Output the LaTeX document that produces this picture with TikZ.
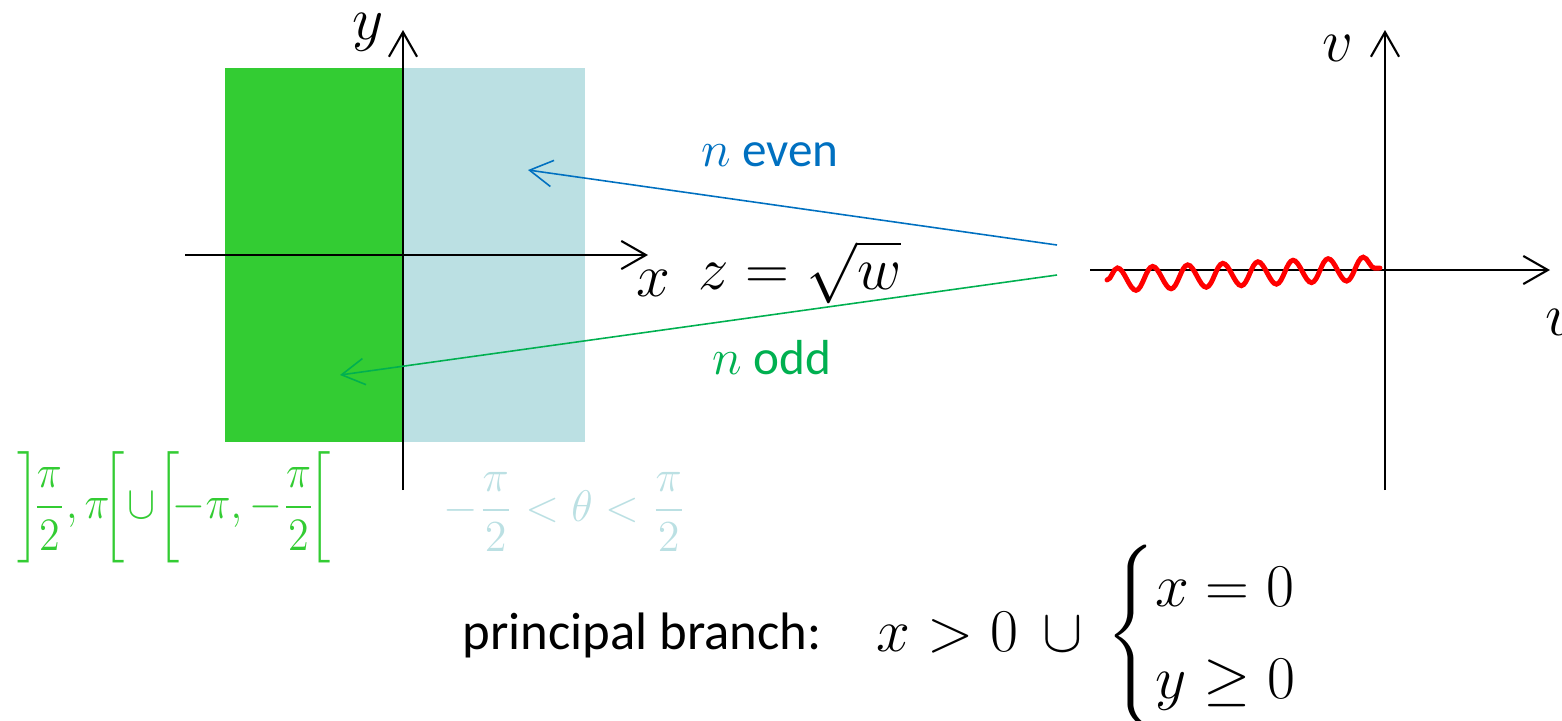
\documentclass[tikz,border=0pt]{standalone}
\usepackage{amsmath}
\usepackage{graphicx}
\usepackage{fontspec}
\setsansfont{Carlito}
\usetikzlibrary{arrows.meta,decorations.pathmorphing}
\definecolor{RootGreen}{RGB}{51,204,51}
\definecolor{RootCyan}{RGB}{187,224,227}
\definecolor{RootBlue}{RGB}{0,112,192}
\definecolor{RootOdd}{RGB}{0,176,80}
\definecolor{RootRed}{RGB}{255,0,0}
\tikzset{
  root axis/.style={-{Straight Barb[length=7pt,width=8pt]},draw=black,line width=0.6pt},
  root map/.style={-{Straight Barb[length=6.5pt,width=7.5pt]},line width=0.45pt},
  root var/.style={inner sep=0pt,font=\fontsize{17}{20}\selectfont},
  root label/.style={inner sep=0pt,font=\fontsize{14}{17}\selectfont\sffamily},
  root cond/.style={inner sep=0pt,font=\fontsize{12.5}{15}\selectfont},
  root cut/.style={
    draw=RootRed,
    line width=1.4pt,
    line cap=round,
    decorate,
    decoration={snake,amplitude=3.3pt,segment length=10pt}
  }
}
\begin{document}
\begin{tikzpicture}[x=0.1mm,y=-0.1mm]
  \useasboundingbox (0,0) rectangle (1562,720);
  % regions of the z plane
  \fill[RootGreen] (225,68) rectangle (403,442);
  \fill[RootCyan] (403,68) rectangle (585,442);

  % z plane
  \coordinate (zwest) at (185,255);
  \coordinate (zeast) at (648,255);
  \coordinate (zsouth) at (403,490);
  \coordinate (znorth) at (403,30);
  \draw[root axis] (zwest) -- (zeast);
  \draw[root axis] (zsouth) -- (znorth);
  \node[root var] (ylabel) at (368,32) {$y$};
  \node[root var] (xlabel) at (653,283) {$x$};

  % w plane
  \coordinate (wwest) at (1090,270);
  \coordinate (weast) at (1550,270);
  \coordinate (wsouth) at (1385,490);
  \coordinate (wnorth) at (1385,30);
  \draw[root axis] (wwest) -- (weast);
  \draw[root axis] (wsouth) -- (wnorth);
  \node[root var] (vlabel) at (1338,48) {$v$};
  \node[root var] (ulabel) at (1562,322) {$u$};
  \coordinate (cutstart) at (1107,280);
  \coordinate (cutend) at (1380,268);
  \draw[root cut] (cutstart) -- (cutend);

  % the two branches
  \coordinate (evenfrom) at (1057,245);
  \coordinate (eventip) at (528,170);
  \coordinate (oddfrom) at (1057,275);
  \coordinate (oddtip) at (340,375);
  \draw[root map,RootBlue] (evenfrom) -- (eventip);
  \draw[root map,RootOdd] (oddfrom) -- (oddtip);
  \node[root label,text=RootBlue] (even) at (770,155) {$n$ even};
  \node[root label,text=RootOdd] (odd) at (772,358) {$n$ odd};
  \node[root var] (root) at (800,272) {$z=\sqrt{w}$};

  % arguments
  \node[root cond,text=RootGreen] (oddarg) at (174,507)
    {\scalebox{1}[1.1]{$\biggl]\!\dfrac{\pi}{2},\pi\!\biggr[\!\cup\!\biggl[\!-\pi,-\dfrac{\pi}{2}\!\biggr[$}};
  \node[root cond,text=RootCyan] (evenarg) at (565,512)
    {\scalebox{1.05}[1.05]{$-\dfrac{\pi}{2}<\theta<\dfrac{\pi}{2}$}};

  \node[inner sep=0pt,font=\fontsize{15}{18}\selectfont\sffamily] (branch) at (642,635) {principal branch:};
  \node[inner sep=0pt,font=\fontsize{16.5}{19.5}\selectfont] (domain) at (1117,636)
    {$x>0\,\cup\,\begin{cases}x=0\\[3pt] y\geq 0\end{cases}$};
\end{tikzpicture}
\end{document}
